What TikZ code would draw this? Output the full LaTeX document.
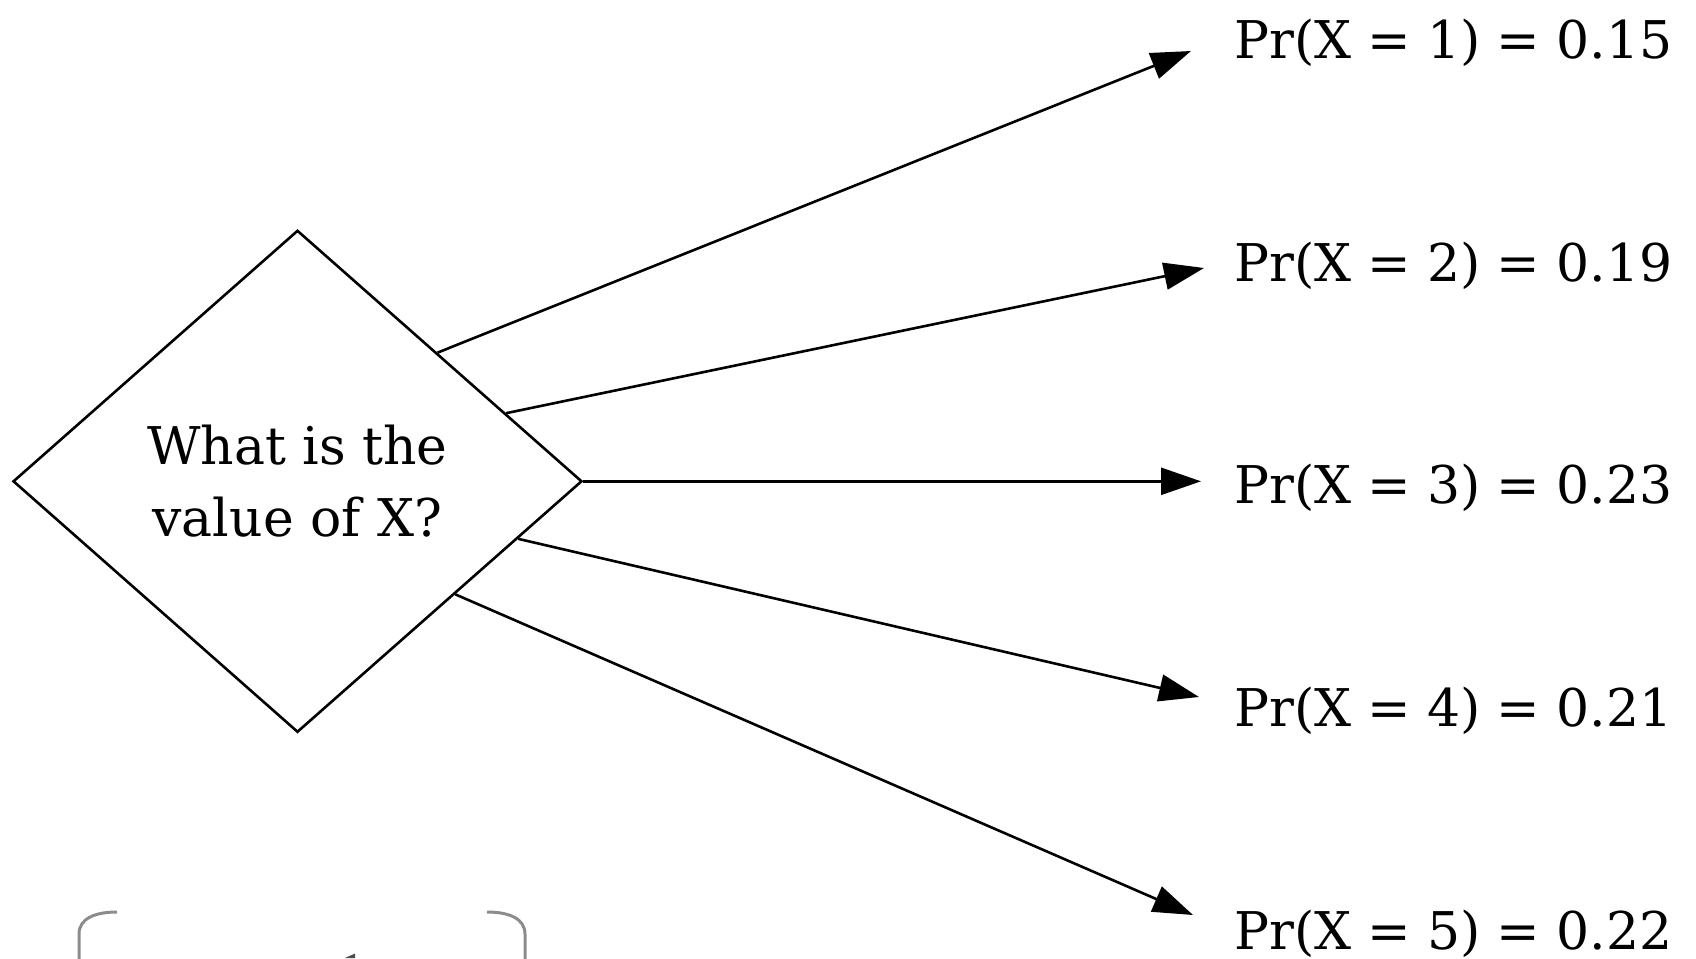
\documentclass[tikz,border=0pt]{standalone}
\usepackage{fontspec}
\setmainfont{DejaVu Serif}
\usetikzlibrary{shapes.geometric,arrows.meta,calc}
\newcommand{\qsp}{\hspace{0.31em}}
\newcommand{\pline}[2]{Pr(X\qsp=\qsp#1)\qsp=\qsp#2}
\begin{document}
\begin{tikzpicture}[x=0.5pt,y=-0.5pt,
  big/.style={font=\fontsize{26}{36}\selectfont},
  decision/.style={draw,line width=1.3pt,diamond,minimum width=284.5pt,minimum height=251pt,inner sep=0pt,big,align=center},
  prob/.style={big,anchor=base west,inner sep=0pt},
  conn/.style={line width=1.3pt,-{Triangle[length=20pt,width=13.5pt]}},
  bracket/.style={draw=gray!90,line width=1.5pt}]
\useasboundingbox (0,0) rectangle (1696,958);
\node[decision] (d) at (297.5,481.3) {What is the\\value of X?};
\node[prob] (p1) at (1234,58) {\pline{1}{0.15}};
\node[prob] (p2) at (1234,281) {\pline{2}{0.19}};
\node[prob] (p3) at (1234,503.5) {\pline{3}{0.23}};
\node[prob] (p4) at (1234,726) {\pline{4}{0.21}};
\node[prob] (p5) at (1234,949) {\pline{5}{0.22}};
\coordinate (t1) at (1191,51);
\coordinate (t2) at (1204,268);
\coordinate (t3) at (1201,481.3);
\coordinate (t4) at (1199,697);
\coordinate (t5) at (1193,915);
\draw[conn] ($(d.north)!0.49!(d.east)$) -- (t1);
\draw[conn] ($(d.north)!0.73!(d.east)$) -- (t2);
\draw[conn] (d.east) -- (t3);
\draw[conn] ($(d.east)!0.228!(d.south)$) -- (t4);
\draw[conn] ($(d.east)!0.448!(d.south)$) -- (t5);
% partial shape at bottom edge
\draw[bracket] (79,960) -- (79,934) .. controls (79,918) and (96,912) .. (117,912);
\draw[bracket] (487,912) .. controls (508,912) and (525,918) .. (525,934) -- (525,960);
\fill[gray!60!black] (345,958) -- (355,953.5) -- (355,958) -- cycle;
\end{tikzpicture}
\end{document}
